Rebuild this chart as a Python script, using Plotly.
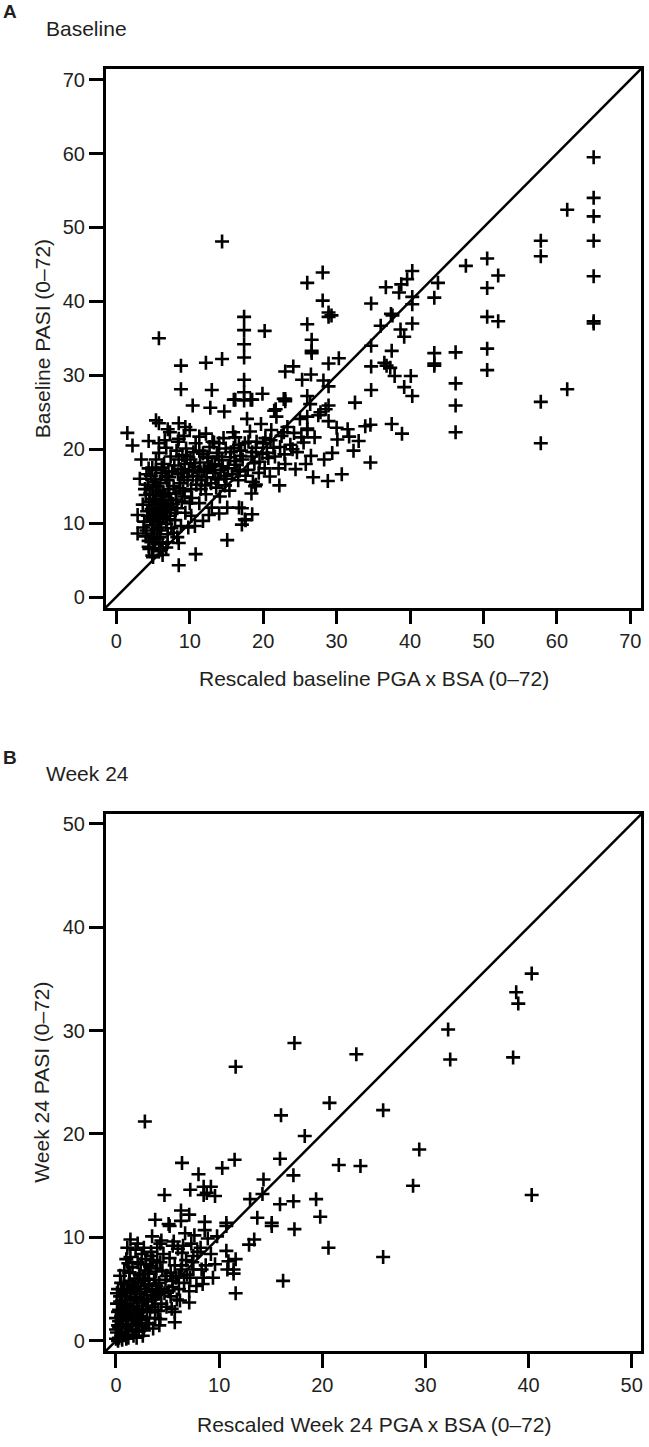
import plotly.graph_objects as go

W, H = 649, 1447

# ---------------- Panel A : Baseline ----------------
a_pga_right = [65.0, 65.0, 61.4, 65.0, 65.0, 57.8, 57.8, 65.0, 65.0, 65.0,
               50.5, 52.0, 47.6, 50.5, 50.5, 52.0, 50.5, 50.5, 61.4, 57.8, 57.8,
               46.2, 46.2, 46.2, 46.2, 43.3, 43.3, 43.3, 43.8, 43.3,
               40.3, 39.6, 38.8, 36.7, 38.5, 40.3, 40.3, 37.4, 37.6, 36.0, 40.3, 38.7, 39.2,
               37.5, 36.5, 36.8, 37.3, 37.9, 40.1, 39.2, 40.3, 37.5, 38.9]
a_pasi_right = [59.5, 54.0, 52.4, 51.5, 48.2, 48.2, 46.1, 43.4, 37.3, 37.0,
                45.8, 43.5, 44.8, 41.8, 37.9, 37.3, 33.6, 30.7, 28.1, 26.4, 20.8,
                33.1, 28.9, 25.9, 22.3, 33.0, 31.6, 31.3, 42.5, 40.5,
                44.1, 43.0, 42.3, 41.9, 41.2, 40.6, 39.6, 38.3, 38.1, 36.7, 37.0, 36.2, 35.2,
                33.3, 31.7, 31.3, 31.0, 29.9, 29.9, 28.4, 27.2, 23.4, 22.1]

a_pga_mid = [14.4, 28.1, 26.0, 34.7, 28.1, 28.9, 29.3, 28.9,
             17.4, 17.4, 17.4, 17.4, 20.2, 26.0, 26.6, 26.6, 26.6, 34.7,
             14.4, 12.2, 8.8, 24.1, 23.0, 28.9, 30.3, 34.7,
             25.3, 26.5, 28.2, 28.9, 17.4, 8.8, 13.0, 34.7,
             17.4, 16.2, 17.4, 18.3, 19.9, 23.0, 23.0, 26.0, 26.4, 32.5,
             28.5, 27.8, 28.9, 10.4, 12.8, 21.7, 26.0, 26.0, 28.9, 30.0, 31.7, 33.9, 34.6,
             14.7, 5.4, 5.8, 7.0, 8.5, 9.4, 1.5, 4.4, 5.8, 8.5, 11.3, 12.2, 13.3, 14.0,
             3.4, 4.4, 2.9, 2.9, 15.1, 10.8, 8.5, 4.5, 5.0, 5.8, 6.3,
             17.1, 17.5, 17.1, 18.5, 18.9, 18.4, 16.0, 18.5, 22.8, 5.8, 34.6]
a_pasi_mid = [48.1, 43.9, 42.5, 39.7, 40.1, 38.5, 38.1, 37.9,
              37.9, 36.1, 34.2, 32.4, 36.0, 36.9, 34.8, 33.3, 33.0, 34.0,
              32.2, 31.7, 31.3, 31.2, 30.5, 31.6, 32.3, 31.2,
              29.4, 30.1, 29.3, 28.5, 29.4, 28.1, 28.0, 28.0,
              27.7, 26.7, 26.6, 26.7, 27.5, 26.8, 26.5, 27.2, 26.1, 26.3,
              25.4, 25.0, 25.9, 25.9, 25.6, 25.4, 24.4, 22.6, 23.8, 22.9, 21.7, 23.1, 23.3,
              25.1, 23.9, 23.5, 22.7, 23.5, 23.0, 22.2, 21.1, 20.8, 21.4, 21.7, 22.1, 20.9, 20.8,
              18.6, 17.4, 11.1, 8.6, 7.7, 5.8, 4.3, 6.5, 5.4, 6.2, 5.7,
              12.0, 10.5, 9.8, 11.2, 15.0, 14.0, 26.7, 26.7, 26.8, 35.0, 18.2]

a_pga_core = [3.6, 3.8, 4.0, 4.1, 4.2, 4.3, 4.4, 4.5, 3.9, 4.0, 4.6, 4.7, 4.4,
              4.8, 4.9, 5.0, 5.0, 5.1, 5.2, 5.2, 5.3, 5.3, 5.4, 5.5, 5.5, 4.9, 5.4, 5.1, 5.0,
              5.7, 5.7, 5.8, 5.9, 6.0, 6.0, 6.1, 6.1, 6.2, 6.3, 6.3, 6.4, 6.4, 6.5, 5.8, 6.2,
              6.6, 6.7, 6.8, 6.9, 7.0, 7.0, 7.1, 7.2, 7.3, 7.4, 7.4, 6.8, 7.2, 7.5,
              7.7, 7.8, 7.9, 8.0, 8.1, 8.2, 8.3, 8.4, 8.5, 8.4, 7.8, 8.2,
              8.7, 8.8, 8.9, 9.0, 9.1, 9.2, 9.3, 9.4, 9.5, 8.8, 9.3,
              9.7, 9.9, 10.1, 10.2, 10.4, 10.5, 10.7, 10.9, 10.0, 10.8, 10.3,
              11.2, 11.4, 11.6, 11.8, 12.0, 12.3, 12.5, 12.7, 12.9, 11.5, 12.2, 12.8,
              13.2, 13.4, 13.7, 13.9, 14.2, 14.4, 14.7, 14.9, 13.6, 14.1, 14.8,
              15.2, 15.5, 15.8, 16.0, 16.3, 16.6, 16.9, 15.4, 16.2, 16.8,
              17.2, 17.5, 17.9, 18.2, 18.5, 18.8, 19.1, 19.4, 19.7, 19.9, 17.8, 18.6,
              20.3, 20.7, 21.1, 21.4, 21.8, 22.1, 22.5, 22.9, 23.3, 23.7, 20.9, 22.2, 21.5, 23.0,
              24.2, 24.6, 25.0, 25.5, 26.0, 26.5, 27.0, 27.5, 24.4, 25.8, 26.8,
              28.3, 28.8, 29.4, 30.1, 30.7, 31.5, 32.3, 33.0,
              12.6, 11.3, 13.0, 15.1, 14.0, 16.7, 17.6, 8.3, 8.5, 6.8, 10.2, 11.8, 9.8, 10.7, 3.2, 2.2]
a_pasi_core = [12.5, 10.2, 13.8, 9.0, 11.6, 15.2, 7.6, 12.9, 14.6, 8.2, 10.6, 16.4, 6.8,
               11.9, 9.7, 13.3, 14.9, 8.6, 12.4, 10.9, 16.0, 7.4, 13.9, 11.3, 9.2, 17.5, 18.6, 15.6, 6.6,
               12.0, 14.4, 10.1, 8.1, 13.0, 15.4, 11.5, 9.4, 16.8, 12.6, 7.2, 14.1, 10.7, 18.0, 19.5, 17.5,
               11.8, 13.6, 9.9, 15.8, 12.3, 8.5, 17.0, 14.6, 11.0, 19.0, 13.1, 20.2, 16.2, 9.3,
               12.6, 15.0, 17.8, 10.4, 14.0, 19.8, 12.0, 16.6, 18.6, 21.0, 8.7, 13.2,
               15.4, 17.3, 12.9, 19.2, 14.3, 16.2, 18.0, 11.4, 20.1, 9.6, 13.6,
               15.8, 17.0, 18.6, 14.6, 16.4, 19.6, 17.6, 15.2, 12.7, 20.8, 13.4,
               16.9, 18.2, 15.8, 19.4, 17.3, 16.2, 18.8, 20.3, 15.4, 14.6, 13.9, 17.6,
               16.8, 18.0, 19.5, 15.9, 17.2, 18.5, 16.4, 20.1, 14.8, 13.6, 15.1,
               17.4, 18.9, 16.6, 20.2, 17.9, 15.8, 19.1, 14.4, 21.6, 17.1,
               18.6, 20.8, 17.2, 22.4, 19.6, 18.1, 21.0, 16.8, 23.4, 19.4, 24.1, 15.6,
               21.5, 18.8, 22.6, 20.2, 24.4, 17.4, 21.8, 19.3, 23.0, 20.6, 16.3, 15.1, 25.2, 18.0,
               22.2, 19.6, 24.1, 20.9, 22.8, 19.1, 21.6, 24.6, 17.3, 18.0, 16.2,
               18.6, 15.7, 19.5, 21.3, 16.6, 22.7, 19.8, 21.1,
               11.1, 12.7, 12.1, 12.1, 11.3, 12.1, 10.4, 8.1, 7.3, 6.7, 11.0, 10.3, 9.4, 9.6, 16.0, 20.5]

a_pga_extra = [10.6, 11.0, 11.9, 12.4, 13.0, 13.5, 14.0, 14.5, 15.0, 15.6, 16.1, 16.5, 17.0, 17.6,
               18.0, 18.4, 19.0, 19.5, 20.0, 20.5, 21.0, 21.6, 22.3, 22.8, 11.3, 12.1, 13.1, 14.6,
               15.9, 16.7, 9.2, 10.0, 7.3, 6.6, 9.6, 10.4, 20.2, 19.0, 24.0, 25.2,
               4.3, 4.6, 4.8, 5.0, 5.3, 5.6, 5.9, 6.0, 6.2, 6.5, 6.7, 6.9, 7.1, 7.4, 7.6,
               5.4, 4.1, 3.7, 4.9, 6.1, 7.0, 5.6, 8.0, 8.6, 9.0]
a_pasi_extra = [18.1, 16.3, 17.0, 19.0, 17.8, 16.1, 19.0, 17.7, 16.0, 19.6, 18.4, 17.0, 19.8, 16.4,
                21.0, 19.0, 20.2, 18.3, 20.8, 19.5, 21.2, 19.0, 20.3, 22.3, 19.8, 15.1, 21.0, 21.5,
                22.3, 20.6, 21.8, 22.6, 22.3, 21.2, 19.0, 17.2, 17.4, 15.2, 20.0, 21.6,
                11.0, 14.0, 8.0, 10.3, 12.9, 15.0, 11.0, 9.0, 13.7, 12.0, 16.4, 10.5, 14.0, 12.0, 17.0,
                17.2, 16.6, 9.4, 5.6, 6.4, 7.4, 7.9, 11.4, 14.7, 16.8]

a_x = a_pga_right + a_pga_mid + a_pga_core + a_pga_extra
a_y = a_pasi_right + a_pasi_mid + a_pasi_core + a_pasi_extra

# ---------------- Panel B : Week 24 ----------------
b_pga_sparse = [40.3, 38.8, 39.0, 32.2, 32.4, 38.5, 29.4, 28.8, 40.3,
                17.3, 23.3, 11.6, 2.8, 16.0, 20.7, 25.9, 18.3,
                6.4, 8.0, 10.3, 11.5, 15.9, 17.2, 14.3, 21.6, 23.7,
                7.2, 8.5, 9.2, 8.8, 9.6, 8.5, 4.7, 13.0, 15.9, 17.2, 19.4,
                6.3, 7.1, 6.3, 3.8, 5.1, 5.2, 8.6, 10.7, 10.7, 13.7, 15.1, 15.1, 17.3,
                19.8, 20.6, 16.2, 25.9, 14.2,
                12.9, 13.4, 10.7, 10.9, 11.6, 11.4, 11.4, 10.8, 11.6,
                8.7, 8.5, 8.4, 7.1, 7.1, 5.7, 5.7, 4.3, 4.2, 5.5, 6.1,
                6.4, 7.4, 6.4, 7.5, 8.2,
                1.4, 2.1, 2.7, 3.5, 4.3, 5.5, 6.0,
                1.0, 1.4, 2.4, 2.9, 3.4, 4.0, 1.3, 2.1, 1.6]
b_pasi_sparse = [35.5, 33.7, 32.6, 30.1, 27.2, 27.4, 18.5, 15.0, 14.1,
                 28.8, 27.7, 26.5, 21.2, 21.8, 23.0, 22.3, 19.8,
                 17.2, 16.1, 16.7, 17.5, 17.6, 16.0, 15.6, 17.0, 16.9,
                 14.6, 14.9, 14.9, 14.3, 14.0, 14.1, 14.1, 13.7, 13.2, 13.5, 13.7,
                 12.6, 12.2, 11.6, 11.7, 11.3, 11.1, 11.5, 11.4, 11.1, 11.9, 11.4, 11.1, 10.8,
                 12.0, 9.0, 5.8, 8.1, 14.2,
                 9.3, 9.8, 8.7, 7.7, 7.9, 6.9, 6.5, 6.9, 4.6,
                 7.3, 6.1, 5.5, 4.8, 3.7, 2.8, 1.8, 2.1, 1.5, 5.8, 6.3,
                 7.3, 7.6, 8.5, 8.2, 9.0,
                 9.8, 9.4, 9.0, 10.1, 9.4, 9.2, 8.9,
                 7.9, 8.1, 7.4, 7.9, 8.2, 7.6, 6.6, 6.0, 5.3]

b_pga_dense = [0.0, 0.1, 0.2, 0.0, 0.3, 0.1, 0.4, 0.2, 0.5, 0.3, 0.0, 0.2, 0.4, 0.5, 0.1, 0.3,
               0.6, 0.7, 0.8, 0.9, 0.6, 0.7, 0.9, 1.0, 0.8, 1.0, 0.6, 0.9,
               1.1, 1.2, 1.3, 1.4, 1.1, 1.5, 1.3, 1.2, 1.4, 1.5, 1.1, 1.3,
               1.6, 1.7, 1.8, 1.9, 1.6, 2.0, 1.8, 1.7, 2.0, 1.9, 1.6,
               2.1, 2.2, 2.3, 2.4, 2.1, 2.5, 2.2, 2.4, 2.3, 2.5, 2.1,
               2.6, 2.7, 2.8, 2.9, 2.6, 3.0, 2.8, 2.7, 3.0, 2.9,
               3.1, 3.2, 3.3, 3.4, 3.1, 3.5, 3.3, 3.2, 3.5, 3.4,
               3.6, 3.7, 3.8, 3.9, 3.6, 4.0, 3.8, 3.9, 4.0,
               4.2, 4.4, 4.5, 4.7, 4.3, 4.8, 4.6, 4.1, 4.9, 4.4,
               5.1, 5.3, 5.5, 5.7, 5.2, 5.9, 5.4, 5.8, 5.6,
               6.1, 6.3, 6.6, 6.8, 6.2, 6.9, 6.5, 6.7,
               7.2, 7.5, 7.8, 7.3, 7.9, 7.6,
               8.3, 8.9, 9.2, 9.6, 8.6, 9.8, 9.4,
               0.2, 0.5, 0.4, 0.8, 1.2, 0.3, 0.7, 1.0, 1.6, 2.0, 2.6, 1.8, 2.3, 2.9, 3.6,
               3.8, 4.4, 4.9, 5.3, 3.2, 2.5, 1.9, 1.1, 2.7, 3.9]
b_pasi_dense = [0.2, 0.8, 1.5, 2.2, 3.0, 3.6, 4.3, 0.0, 0.5, 1.9, 1.1, 2.8, 3.8, 2.4, 4.6, 0.3,
                1.2, 2.0, 3.2, 0.6, 3.9, 4.8, 2.6, 1.6, 5.5, 3.6, 0.1, 4.3,
                0.9, 2.3, 3.0, 4.0, 5.0, 1.5, 5.8, 0.3, 2.7, 4.6, 3.5, 6.6,
                2.0, 3.3, 4.2, 1.1, 5.2, 2.8, 6.0, 0.5, 3.9, 4.8, 7.1,
                1.7, 3.1, 4.5, 2.4, 5.6, 3.7, 0.9, 5.0, 6.4, 1.4, 7.6,
                2.9, 4.1, 5.3, 3.4, 6.1, 2.2, 6.8, 1.0, 4.7, 7.4,
                3.8, 5.5, 2.8, 4.4, 6.5, 5.0, 7.2, 1.7, 3.3, 8.6,
                4.0, 5.9, 3.0, 6.7, 7.8, 4.8, 2.2, 5.3, 9.0,
                5.6, 3.6, 6.8, 4.6, 7.6, 5.9, 8.4, 2.9, 3.3, 9.7,
                4.8, 6.6, 5.2, 7.3, 8.0, 4.0, 3.1, 6.1, 9.6,
                5.0, 6.9, 5.6, 7.8, 3.9, 6.4, 9.2, 10.4,
                6.1, 6.9, 5.3, 9.4, 8.6, 10.2,
                6.9, 9.9, 8.4, 7.4, 10.7, 10.1, 6.1,
                5.0, 5.6, 6.3, 6.8, 7.5, 1.3, 2.9, 0.2, 1.0, 0.3, 0.5, 2.4, 2.0, 1.6, 1.2,
                4.4, 5.0, 6.3, 4.3, 6.0, 8.4, 8.8, 9.0, 5.8, 7.0]

b_x = b_pga_sparse + b_pga_dense
b_y = b_pasi_sparse + b_pasi_dense

a_range = [-1.45, 71.45]
b_range = [-1.0, 50.9]
a_ticks = [0, 10, 20, 30, 40, 50, 60, 70]
b_ticks = [0, 10, 20, 30, 40, 50]

FONT = "Arial, 'Liberation Sans', Helvetica, sans-serif"
TXT = "#231f20"

def px(xp):
    return xp / W

def py(yp):
    return 1 - yp / H

marker = dict(symbol="cross-thin", size=10, color="black",
              line=dict(width=2.6, color="black"))

fig = go.Figure()
fig.add_trace(go.Scatter(x=a_x, y=a_y, mode="markers", marker=marker,
                         xaxis="x", yaxis="y", showlegend=False))
fig.add_trace(go.Scatter(x=b_x, y=b_y, mode="markers", marker=marker,
                         xaxis="x2", yaxis="y2", showlegend=False))

axis_common = dict(showgrid=False, zeroline=False, showline=True, mirror=True,
                   linecolor="black", linewidth=2.5, ticks="outside", ticklen=14,
                   tickwidth=2.5, tickcolor="black",
                   tickfont=dict(family=FONT, size=20, color=TXT))

xd = [px(106), px(643)]
fig.update_layout(
    width=W, height=H, margin=dict(l=0, r=0, t=0, b=0),
    paper_bgcolor="white", plot_bgcolor="white",
    xaxis=dict(domain=xd, range=a_range, tickvals=a_ticks, anchor="y", **axis_common),
    yaxis=dict(domain=[py(607), py(67)], range=a_range, tickvals=a_ticks, anchor="x", **axis_common),
    xaxis2=dict(domain=xd, range=b_range, tickvals=b_ticks, anchor="y2", **axis_common),
    yaxis2=dict(domain=[py(1352), py(814)], range=b_range, tickvals=b_ticks, anchor="x2", **axis_common),
)

# identity lines (corner to corner, since ranges are equal)
for xr, yr in (("x domain", "y domain"), ("x2 domain", "y2 domain")):
    fig.add_shape(type="line", xref=xr, yref=yr, x0=0, y0=0, x1=1, y1=1,
                  line=dict(color="black", width=2.5))

def ann(text, x, y, size=20, bold=False, xanchor="center", angle=0):
    fig.add_annotation(text=f"<b>{text}</b>" if bold else text,
                       x=px(x), y=py(y), xref="paper", yref="paper",
                       xanchor=xanchor, yanchor="middle", showarrow=False,
                       textangle=angle,
                       font=dict(family=FONT, size=size, color=TXT))

ann("A", 1, 10, size=19, bold=True, xanchor="left")
ann("Baseline", 44, 27, size=21, xanchor="left")
ann("Rescaled baseline PGA x BSA (0–72)", 375, 678, size=21)
ann("Baseline PASI (0–72)", 42, 337, size=21, angle=-90)

ann("B", 1, 757, size=19, bold=True, xanchor="left")
ann("Week 24", 44, 773, size=21, xanchor="left")
ann("Rescaled Week 24 PGA x BSA (0–72)", 375, 1425, size=21)
ann("Week 24 PASI (0–72)", 42, 1082, size=21, angle=-90)

fig.write_html("out.html")
